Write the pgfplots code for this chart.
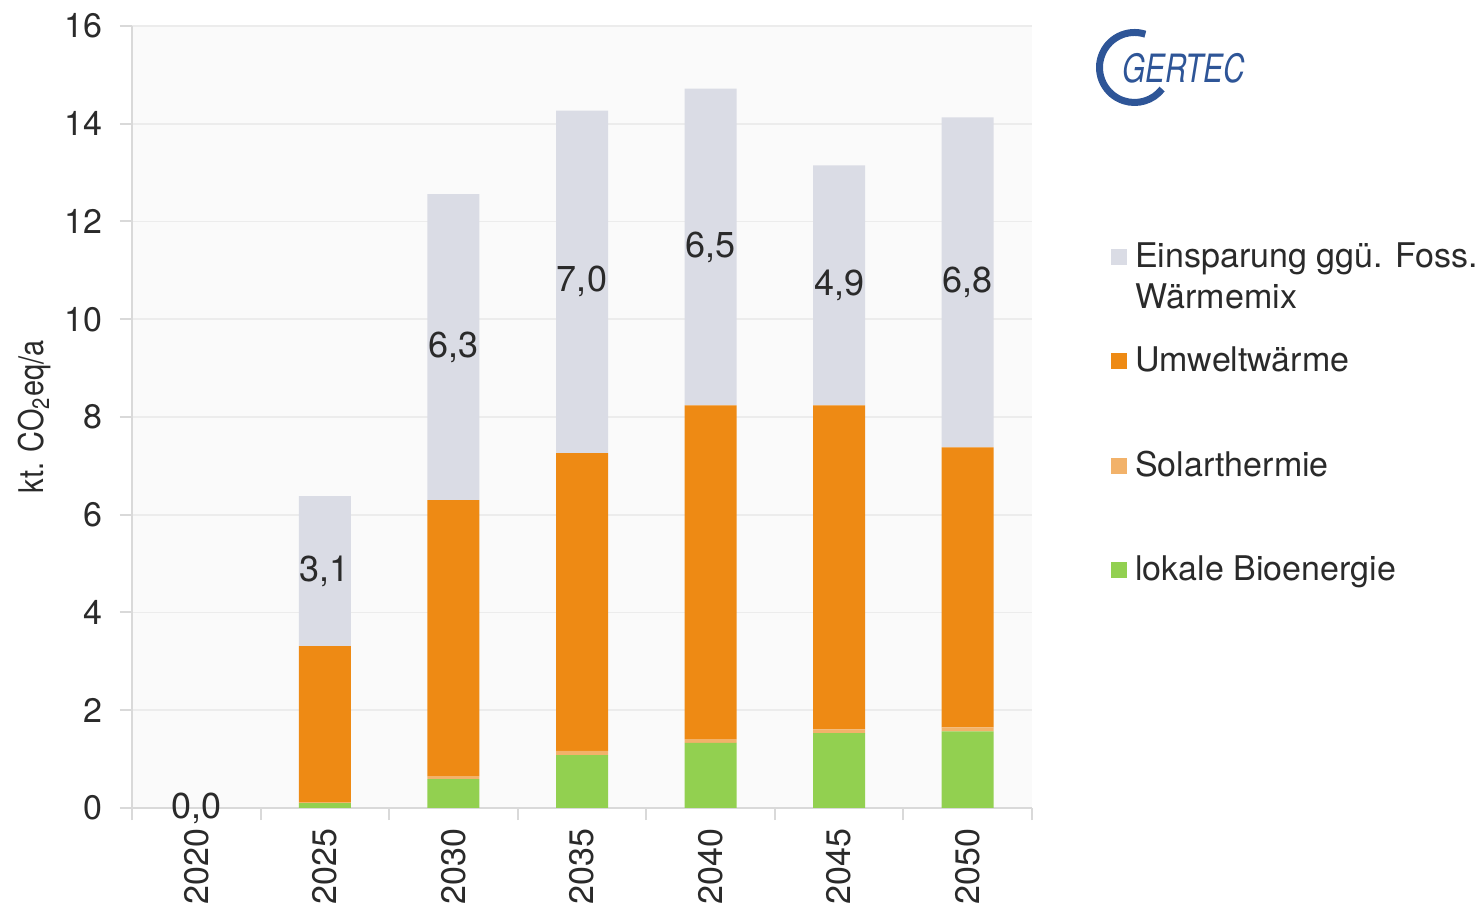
\documentclass[border=0pt]{standalone}
\usepackage{pgfplots}
\usepackage{pgfplotstable}
\pgfplotsset{compat=1.18}
\usepackage{fontspec}
\setmainfont{TeX Gyre Heros}
\newfontfamily\condfont{TeX Gyre Heros}[FakeStretch=0.85]
\newfontfamily\logofont{TeX Gyre Heros}[FakeStretch=0.76]
\definecolor{cgray}{HTML}{DADCE5}
\definecolor{corange}{HTML}{EE8A14}
\definecolor{csolar}{HTML}{F2B26A}
\definecolor{cgreen}{HTML}{92D050}
\definecolor{cbg}{HTML}{FAFAFA}
\definecolor{cgrid}{HTML}{ECECEC}
\definecolor{caxis}{HTML}{D9D9D9}
\definecolor{ctext}{HTML}{2A2A2A}
\definecolor{cblue}{HTML}{2E5597}
\newcommand\fs{\fontsize{17pt}{20.5pt}\selectfont}
\newcommand\fsl{\fontsize{18pt}{21pt}\selectfont}

\pgfplotstableread{
x green solar orange gray
0 0 0 0 0
1 0.10 0.02 3.19 3.07
2 0.59 0.06 5.65 6.26
3 1.08 0.09 6.09 7.01
4 1.33 0.08 6.83 6.48
5 1.53 0.08 6.63 4.91
6 1.57 0.08 5.73 6.75
}\data

\pgfplotstableread{
x y label
0 0 0,0
1 4.845 3,1
2 9.43 6,3
3 10.765 7,0
4 11.48 6,5
5 10.695 4,9
6 10.755 6,8
}\labels

\pgfplotsset{base/.style={width=450pt, height=391pt, scale only axis,
  xmin=-0.5, xmax=6.5, ymin=0, ymax=16, at={(66pt,50.5pt)}, anchor=south west}}

\begin{document}
\begin{tikzpicture}[font=\fs, text=ctext]
\useasboundingbox (0,0) rectangle (738.5pt,454.5pt);
\begin{axis}[base,
  ybar stacked, bar width=26pt,
  axis background/.style={fill=cbg},
  axis lines*=left,
  axis line style={draw=caxis, line width=1pt},
  /pgf/number format/assume math mode=true,
  ytick={0,2,...,16},
  ymajorgrids, grid style={draw=cgrid, line width=0.8pt},
  xtick={-0.5,0.5,...,6.5}, xticklabels={},
  extra x ticks={0,1,2,3,4,5,6},
  extra x tick labels={2020,2025,2030,2035,2040,2045,2050},
  extra x tick style={major tick length=0pt, grid=none,
    tick label style={rotate=90, anchor=east, xshift=-7pt}},
  tick align=outside,
  tick style={draw=caxis, line width=1pt},
  major tick length=6pt,
  ticklabel style={font=\fs, text=ctext},
  yticklabel style={xshift=-5.5pt},
  ylabel={\condfont kt. CO\textsubscript{2}eq/a},
  ylabel style={at={(axis description cs:-0.1078,0.5)}, anchor=center, font=\fs, text=ctext},
  reverse legend,
  legend cell align=left,
  legend style={at={(axis description cs:1.081,0.7327)}, anchor=north west,
    draw=none, fill=none, font=\fs, text=ctext, row sep=34.7pt},
  legend image code/.code={\fill[#1] (0pt,-4pt) rectangle (8pt,4pt);},
]
\addplot[fill=cgreen, draw=none] table[x=x, y=green]\data;
\addlegendentry{\hspace{2pt}\raisebox{0pt}[12pt][4pt]{lokale Bioenergie}}
\addplot[fill=csolar, draw=none] table[x=x, y=solar]\data;
\addlegendentry{\hspace{2pt}\raisebox{0pt}[12pt][4pt]{Solarthermie}}
\addplot[fill=corange, draw=none] table[x=x, y=orange]\data;
\addlegendentry{\hspace{2pt}\raisebox{0pt}[12pt][4pt]{Umweltwärme}}
\addplot[fill=cgray, draw=none] table[x=x, y=gray]\data;
\addlegendentry{\hspace{2pt}\raisebox{0pt}[12pt][4pt]{\begin{tabular}[t]{@{}l@{}}Einsparung ggü. Foss.\\Wärmemix\end{tabular}}}
\end{axis}
\begin{axis}[base, hide axis, clip=false]
\addplot[only marks, mark=text, text mark={},
  nodes near coords, point meta=explicit symbolic,
  every node near coord/.append style={anchor=center, font=\fsl, text=ctext}]
  table[x=x, y=y, meta=label]\labels;
\end{axis}
\draw[cblue, line width=3.5pt] (567.25pt,420.75pt) ++(72:17.5pt) arc[start angle=72, end angle=322, radius=17.5pt];
\node[anchor=base west, inner sep=0pt, text=cblue, font=\logofont\itshape\fontsize{19.5pt}{20pt}\selectfont] at (561pt,413pt) {GERTEC};
\end{tikzpicture}
\end{document}
